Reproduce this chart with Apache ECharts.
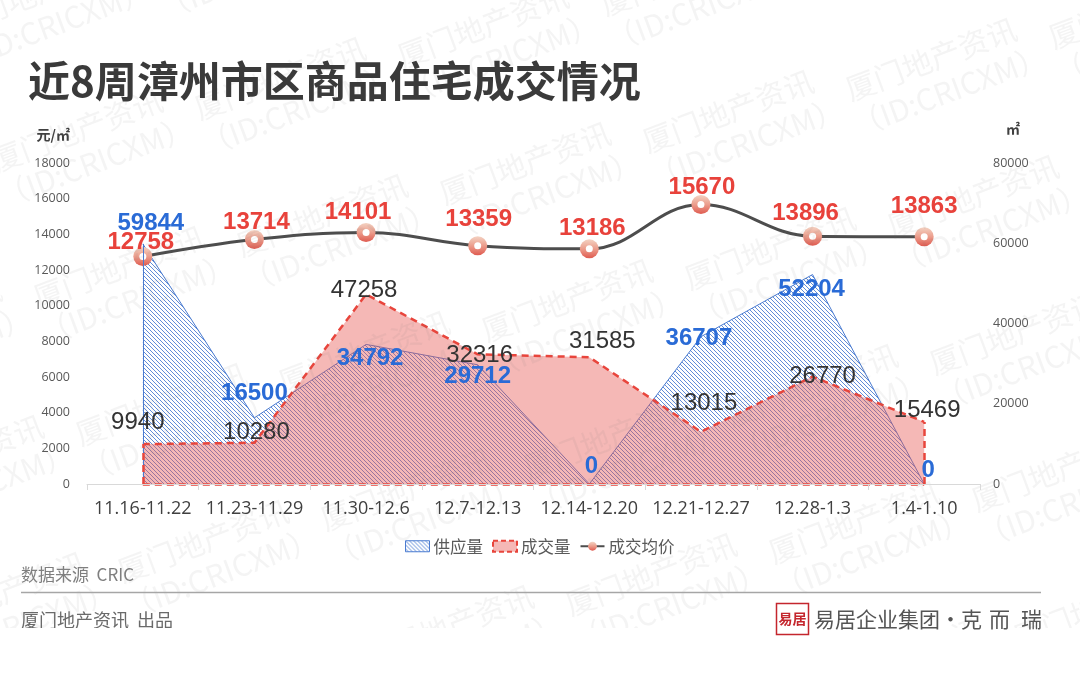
<!DOCTYPE html>
<html>
<head>
<meta charset="utf-8">
<script src="https://cdn.jsdelivr.net/npm/echarts@6/dist/echarts.min.js"></script>
<style>
html,body{margin:0;padding:0;background:#fff;}
#chart{width:1080px;height:673px;}
</style>
</head>
<body>
<div id="chart"></div>
<script>
// ---------- data ----------
const categories = ['11.16-11.22','11.23-11.29','11.30-12.6','12.7-12.13','12.14-12.20','12.21-12.27','12.28-1.3','1.4-1.10'];
const supply = [59844, 16500, 34792, 29712, 0, 36707, 52204, 0];          // 供应量 (㎡)
const volume = [9940, 10280, 47258, 32316, 31585, 13015, 26770, 15469];   // 成交量 (㎡)
const price  = [12758, 13714, 14101, 13359, 13186, 15670, 13896, 13863];  // 成交均价 (元/㎡)
const leftAxis  = {min: 0, max: 18000, interval: 2000};
const rightAxis = {min: 0, max: 80000, interval: 20000};

// ---------- label placement (style, px offsets from the point) ----------
const supplyLabelOffset = [[8,-21],[0,-24],[4,14],[0,12],[2,-18],[-2,2],[-1,15],[4,-14]];
const volumeLabelOffset = [[-5,-22],[2,-10],[-2,-4],[2,1],[13,-16],[3,-28],[10,0],[3,-12]];
const priceLabelOffset  = [[-2,-14],[2,-17],[-8,-20],[1,-26],[3,-20],[1,-17],[-7,-23],[0,-30]];

function makeHatch() {
  const c = document.createElement('canvas');
  c.width = 4; c.height = 4;
  const g = c.getContext('2d');
  g.strokeStyle = '#4f7fd4';
  g.lineWidth = 0.9;
  g.beginPath();
  g.moveTo(-1,-1); g.lineTo(5,5);
  g.moveTo(-1,3); g.lineTo(1,5);
  g.moveTo(3,-1); g.lineTo(5,1);
  g.stroke();
  return c;
}
const hatch = {image: makeHatch(), repeat: 'repeat'};

const numFont = '"Liberation Sans", Arial, sans-serif';
const cjk = '"Noto Sans CJK SC", "Noto Sans", sans-serif';
const plain = v => String(v);

function labelData(values, offsets) {
  return values.map((v, i) => ({value: v, label: {offset: offsets[i]}}));
}

// watermark tiles (decoration)
const watermark = [];
for (let r = -2; r < 9; r++) {
  for (let k = -2; k < 9; k++) {
    const x = 35 + 42 * r + 203 * k;
    const y = -7 + 137 * r - 52 * k;
    if (x < -160 || x > 1260 || y < -90 || y > 720) continue;
    watermark.push({
      type: 'group', x: x, y: y, rotation: 20.5 * Math.PI / 180, silent: true,
      children: [
        {type: 'text', x: 0, y: 0, z: 5, style: {text: '厦门地产资讯', font: '30px ' + cjk, fill: 'rgba(110,110,110,0.08)', align: 'center', verticalAlign: 'middle'}},
        {type: 'text', x: 6, y: 36, z: 5, style: {text: '（ID:CRICXM）', font: '30px ' + cjk, fill: 'rgba(110,110,110,0.08)', align: 'center', verticalAlign: 'middle'}}
      ]
    });
  }
}

const chart = echarts.init(document.getElementById('chart'), null, {renderer: 'canvas'});

const labelSeriesBase = {
  type: 'scatter', z: 8, silent: true,
  symbolSize: 1, itemStyle: {color: 'rgba(0,0,0,0)', opacity: 1},
  emphasis: {disabled: true}
};

const option = {
  animation: false,
  backgroundColor: '#ffffff',
  grid: {left: 87, right: 100, top: 163, bottom: 189},
  legend: {
    left: 400, top: 533, z: 20,
    itemWidth: 24, itemHeight: 11, itemGap: 9,
    textStyle: {fontFamily: cjk, fontSize: 16.5, color: '#595959', padding: [0, 0, 0, -1]},
    data: [
      {name: '供应量', icon: 'rect', itemStyle: {color: hatch, borderColor: '#4a7bd0', borderWidth: 1}},
      {name: '成交量', icon: 'rect', itemStyle: {color: 'rgba(230,85,80,0.42)', borderColor: '#e8453c', borderWidth: 2, borderType: [5, 3]}},
      {name: '成交均价'}
    ]
  },
  xAxis: {
    type: 'category',
    data: categories,
    boundaryGap: true,
    z: 20,
    axisLine: {show: true, lineStyle: {color: '#d9d9d9', width: 1}},
    axisTick: {show: true, length: 6, lineStyle: {color: '#d9d9d9'}},
    axisLabel: {fontFamily: '"Open Sans", sans-serif', fontSize: 18, color: '#404040', margin: 16, interval: 0},
    splitLine: {show: false}
  },
  yAxis: [
    {
      type: 'value', min: leftAxis.min, max: leftAxis.max, interval: leftAxis.interval, z: 20,
      axisLine: {show: false}, axisTick: {show: false}, splitLine: {show: false},
      axisLabel: {fontFamily: '"Open Sans", sans-serif', fontSize: 12.5, color: '#595959', margin: 17, formatter: plain}
    },
    {
      type: 'value', min: rightAxis.min, max: rightAxis.max, interval: rightAxis.interval, z: 20,
      axisLine: {show: false}, axisTick: {show: false}, splitLine: {show: false},
      axisLabel: {fontFamily: '"Open Sans", sans-serif', fontSize: 12.5, color: '#595959', margin: 13, formatter: plain}
    }
  ],
  series: [
    {
      name: '供应量', type: 'line', yAxisIndex: 1, data: supply,
      z: 2, symbol: 'none', smooth: false,
      lineStyle: {color: '#4a7bd0', width: 1},
      itemStyle: {color: '#4a7bd0'},
      areaStyle: {color: hatch, opacity: 1},
      markLine: {
        silent: true, symbol: ['none', 'none'], label: {show: false}, animation: false,
        lineStyle: {color: '#4a7bd0', width: 1, type: 'solid'},
        data: [[{coord: [categories[0], 0]}, {coord: [categories[0], supply[0]]}]]
      }
    },
    {
      name: '成交量', type: 'line', yAxisIndex: 1, data: volume,
      z: 3, symbol: 'none', smooth: false,
      lineStyle: {color: '#e8453c', width: 2.5, type: [7, 5]},
      itemStyle: {color: '#e8453c'},
      areaStyle: {color: 'rgba(230,85,80,0.42)', opacity: 1},
      markLine: {
        silent: true, symbol: ['none', 'none'], label: {show: false}, animation: false,
        lineStyle: {color: '#e8453c', width: 2.5, type: [7, 5]},
        data: [
          [{coord: [categories[0], 0]}, {coord: [categories[0], volume[0]]}],
          [{coord: [categories[categories.length - 1], 0]}, {coord: [categories[categories.length - 1], volume[volume.length - 1]]}],
          [{coord: [categories[0], 0]}, {coord: [categories[categories.length - 1], 0]}]
        ]
      }
    },
    {
      name: '成交均价', type: 'line', yAxisIndex: 0, data: price,
      z: 4, smooth: 0.4,
      symbol: 'circle', symbolSize: 19, showSymbol: true,
      lineStyle: {color: '#4d4d4d', width: 3},
      itemStyle: {
        opacity: 1,
        color: {type: 'linear', x: 0, y: 0, x2: 0, y2: 1, colorStops: [
          {offset: 0, color: '#f3d2c2'}, {offset: 0.5, color: '#ec9d8c'}, {offset: 1, color: '#df5b50'}]},
        borderWidth: 0
      }
    },
    // white centres of the price markers
    {
      name: 'price-dot', type: 'scatter', yAxisIndex: 0, data: price, z: 4.5, silent: true,
      symbol: 'circle', symbolSize: 7, itemStyle: {color: '#ffffff', opacity: 1}
    },
    // value labels
    Object.assign({}, labelSeriesBase, {
      name: 'supply-label', yAxisIndex: 1,
      data: labelData(supply, supplyLabelOffset),
      label: {show: true, position: 'inside', opacity: 1, fontFamily: numFont, fontSize: 24, fontWeight: 'bold', color: '#2a6bd6'}
    }),
    Object.assign({}, labelSeriesBase, {
      name: 'volume-label', yAxisIndex: 1,
      data: labelData(volume, volumeLabelOffset),
      label: {show: true, position: 'inside', opacity: 1, fontFamily: numFont, fontSize: 24, color: '#333333'}
    }),
    Object.assign({}, labelSeriesBase, {
      name: 'price-label', yAxisIndex: 0,
      data: labelData(price, priceLabelOffset),
      label: {show: true, position: 'inside', opacity: 1, fontFamily: numFont, fontSize: 24, fontWeight: 'bold', color: '#e8423b'}
    })
  ],
  graphic: [
    ...watermark,
    {type: 'text', left: 28, top: 60, z: 10, style: {text: '近8周漳州市区商品住宅成交情况', font: 'bold 42px ' + cjk, fill: '#3a3a3a'}},
    {type: 'text', x: 70, y: 135, z: 10, style: {text: '元/㎡', font: 'bold 14px ' + cjk, fill: '#404040', align: 'right', verticalAlign: 'middle'}},
    {type: 'text', x: 1013, y: 129, z: 10, style: {text: '㎡', font: 'bold 14px ' + cjk, fill: '#404040', align: 'center', verticalAlign: 'middle'}},
    {type: 'text', x: 21, y: 575, z: 10, style: {text: '数据来源  CRIC', font: '17px ' + cjk, fill: '#7f7f7f', verticalAlign: 'middle'}},
    {type: 'line', z: 10, shape: {x1: 21, y1: 592.5, x2: 1041, y2: 592.5}, style: {stroke: '#a6a6a6', lineWidth: 1.5}},
    {type: 'text', x: 21, y: 620, z: 10, style: {text: '厦门地产资讯  出品', font: '18px ' + cjk, fill: '#6a6a6a', verticalAlign: 'middle'}},
    {type: 'rect', z: 101, silent: true, shape: {x: 0, y: 628, width: 1080, height: 45}, style: {fill: '#ffffff'}},
    {type: 'rect', z: 102, shape: {x: 776.5, y: 603.5, width: 32, height: 31}, style: {fill: '#ffffff', stroke: '#c4262d', lineWidth: 1.5}},
    {type: 'text', x: 792.5, y: 619, z: 103, style: {text: '易居', font: 'bold 14px ' + cjk, fill: '#c4262d', align: 'center', verticalAlign: 'middle'}},
    {type: 'text', x: 814, y: 619, z: 103, style: {text: '易居企业集团·克', font: '21px ' + cjk, fill: '#555555', verticalAlign: 'middle'}},
    {type: 'text', x: 989, y: 619, z: 103, style: {text: '而', font: '21px ' + cjk, fill: '#555555', verticalAlign: 'middle'}},
    {type: 'text', x: 1021, y: 619, z: 103, style: {text: '瑞', font: '21px ' + cjk, fill: '#555555', verticalAlign: 'middle'}}
  ]
};
chart.setOption(option);
</script>
</body>
</html>
